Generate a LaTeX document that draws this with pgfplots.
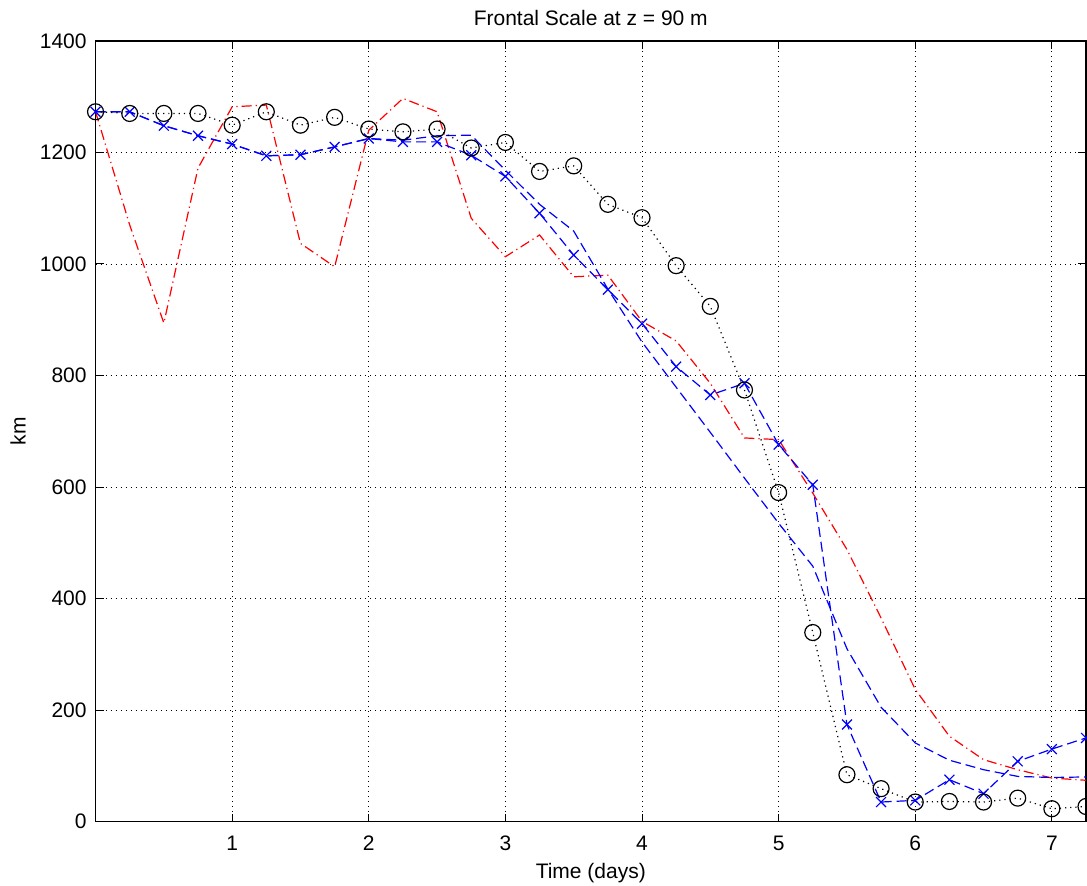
\documentclass[border=0pt]{standalone}
\usepackage{pgfplots}
\pgfplotsset{compat=1.18}
\usepackage{fontspec}
\setmainfont{Liberation Sans}
\begin{document}
\fontsize{10.5}{12}\selectfont
\begin{tikzpicture}
\begin{axis}[
  name=ax,
  scale only axis,
  width=495.5pt, height=390.5pt,
  xmin=0, xmax=7.25, ymin=0, ymax=1400,
  xtick={1,2,3,4,5,6,7},
  ytick={0,200,400,600,800,1000,1200,1400},
  /pgf/number format/assume math mode=true,
  /pgf/number format/1000 sep={},
  tick label style={font=\fontsize{10.5}{12}\selectfont, inner sep=0pt},
  xticklabel style={anchor=base, yshift=-14.5pt},
  yticklabel style={anchor=east, xshift=-4.3pt},
  tick align=inside,
  xtick pos=both, ytick pos=both,
  xticklabel pos=lower, yticklabel pos=left,
  major tick length=4pt,
  tick style={black, line width=0.5pt},
  grid=major,
  major grid style={black, line width=0.4pt, dash pattern=on 0.5pt off 2pt},
  axis line style={black, line width=0.6pt},
  title={Frontal Scale at z = 90 m},
  title style={at={(axis description cs:0.5,1)}, anchor=base, yshift=1.5pt, inner sep=0pt, font=\fontsize{10.5}{12}\selectfont},
  xlabel={Time (days)},
  xlabel style={at={(axis description cs:0.5,0)}, anchor=base, yshift=-28.5pt, inner sep=0pt, font=\fontsize{10.5}{12}\selectfont},
  ylabel={km},
  ylabel style={at={(axis description cs:0,0.5)}, anchor=base, yshift=35pt, inner sep=0pt, font=\fontsize{10.5}{12}\selectfont},
]
% red dash-dot
\addplot[red, line width=0.6pt, dash pattern=on 5pt off 2pt on 0.6pt off 2pt, mark=none] coordinates {
(0,1273) (0.25,1070) (0.5,894) (0.75,1172) (1,1282) (1.25,1285) (1.5,1037) (1.75,995)
(2,1240) (2.25,1297) (2.5,1273) (2.75,1082) (3,1013) (3.25,1052) (3.5,977) (3.75,980)
(4,897) (4.25,862) (4.5,786) (4.75,688) (5,685) (5.25,589) (5.5,488) (5.75,365)
(6,237) (6.25,153) (6.5,111) (6.75,93) (7,78) (7.25,74)
};
% blue dashed, no marks
\addplot[blue, line width=0.6pt, dash pattern=on 5pt off 2.5pt, mark=none] coordinates {
(0,1273) (0.25,1273) (0.5,1248) (0.75,1230) (1,1215) (1.25,1194) (1.5,1196) (1.75,1210)
(2,1225) (2.25,1222) (2.5,1230) (2.75,1231) (3,1168) (3.25,1107) (3.5,1059) (3.75,955)
(4,860) (4.25,779) (4.5,698) (4.75,616) (5,535) (5.25,458) (5.5,310) (5.75,205)
(6,141) (6.25,110) (6.5,93) (6.75,81) (7,79) (7.25,80)
};
% blue dashed with x marks
\addplot[blue, line width=0.6pt, dash pattern=on 5pt off 2.5pt, mark=x, mark size=3.5pt, mark options={solid, line width=0.6pt}] coordinates {
(0,1273) (0.25,1273) (0.5,1248) (0.75,1230) (1,1215) (1.25,1194) (1.5,1196) (1.75,1210)
(2,1225) (2.25,1219) (2.5,1219) (2.75,1195) (3,1157) (3.25,1091) (3.5,1016) (3.75,954)
(4,893) (4.25,816) (4.5,765) (4.75,786) (5,676) (5.25,604) (5.5,174) (5.75,35)
(6,38) (6.25,75) (6.5,50) (6.75,108) (7,130) (7.25,150)
};
% black dotted with circles
\addplot[black, line width=0.6pt, dash pattern=on 0.6pt off 2pt, mark=o, mark size=4pt, mark options={solid, line width=0.6pt}] coordinates {
(0,1273) (0.25,1270) (0.5,1270) (0.75,1270) (1,1249) (1.25,1273) (1.5,1249) (1.75,1263)
(2,1242) (2.25,1237) (2.5,1242) (2.75,1208) (3,1218) (3.25,1166) (3.5,1176) (3.75,1107)
(4,1083) (4.25,997) (4.5,924) (4.75,774) (5,590) (5.25,339) (5.5,84) (5.75,59)
(6,35) (6.25,36) (6.5,35) (6.75,42) (7,23) (7.25,27)
};
\end{axis}
\pgfresetboundingbox
\path ([xshift=-47.8pt,yshift=-32pt]ax.south west) rectangle ([xshift=0.5pt,yshift=20.5pt]ax.north east);
\end{tikzpicture}
\end{document}
